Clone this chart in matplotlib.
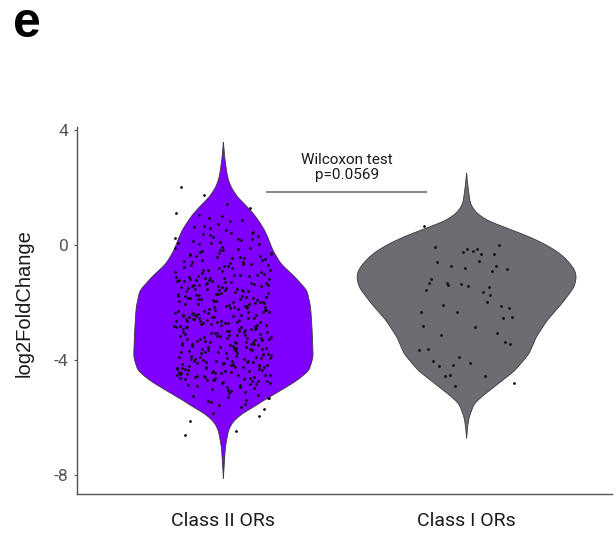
import numpy as np
import matplotlib.pyplot as plt

groups = ["Class II ORs", "Class I ORs"]
fill_colors = ["#7f00ff", "#6c6c72"]

# log2FoldChange per receptor
class2_lfc = [
    -2.31, -0.48, -3.92, -1.17, -4.63, 0.27, -2.86, -3.41, -1.73, -4.18, -0.92, -2.05, -5.12, -3.67, -1.38,
    -4.41, 0.63, -2.54, -3.08, -1.96, -4.87, -0.21, -3.29, -2.72, -1.51, -4.02, 0.08, -3.83, -2.17, -4.55,
    -1.04, -3.56, -2.93, -0.66, -4.29, -1.82, -3.14, -2.41, 0.41, -4.71, -1.25, -3.75, -2.64, -0.37, -4.12,
    -1.62, -3.36, -2.23, -5.34, -0.79, -3.98, -2.81, -1.44, -4.47, 0.16, -3.21, -2.02, -4.93, -1.11, -3.61,
    -2.49, -0.12, -4.24, -1.89, -3.47, -2.77, -0.55, -4.66, -1.33, -3.02, 0.84, -2.38, -4.08, -1.69, -3.89,
    -2.61, -0.98, -4.36, -1.56, -3.27, -2.12, 0.34, -4.79, -3.53, -1.21, -2.88, -0.29, -4.15, -1.78, -3.71,
    -2.27, -5.06, -0.71, -3.44, -1.94, -4.52, -2.69, 0.02, -3.11, -1.47, -4.33, -2.96, -0.86, -3.79, -1.28,
    -2.57, -4.61, -0.43, -3.16, -1.87, -4.01, -2.35, 0.52, -3.68, -1.08, -4.42, -2.83, -1.64, -3.33, -5.21,
    -0.17, -2.46, -4.26, -1.36, -3.58, -2.09, -0.61, -4.73, -3.05, -1.79, 0.21, -2.74, -3.94, -1.15, -4.48,
    -2.19, -3.38, -0.89, -4.14, -1.53, -2.91, 0.73, -3.73, -2.42, -4.57, -1.01, -3.25, -0.33, -4.84, -1.91,
    -2.66, -3.86, -1.41, -4.21, -0.07, -3.09, -2.14, -4.68, -1.67, -3.49, -2.58, 0.46, -4.03, -1.23, -2.99,
    -3.63, -0.53, -4.39, -1.84, -2.33, -5.47, -3.19, -1.06, -4.11, -2.79, 0.11, -3.42, -1.59, -4.59, -2.26,
    -0.74, -3.97, -1.31, -2.52, -4.31, -3.13, -0.24, -1.98, -4.76, -2.87, -3.55, 0.95, -1.18, -4.05, -2.44,
    -3.31, -1.72, -4.49, -0.41, -2.71, -3.84, -1.49, -4.22, -2.06, -5.02, -0.95, -3.66, -2.39, 0.31, -4.44,
    -1.27, -3.04, -2.62, -4.17, -0.63, -3.52, -1.86, -4.64, -2.29, -0.15, -3.77, -1.42, -4.09, -2.84, -3.23,
    0.58, -4.54, -1.97, -2.48, -3.91, -0.82, -4.27, -1.58, -3.35, -2.16, -5.28, -0.35, -2.94, -4.38, -1.13,
    -3.69, -2.55, 0.04, -4.81, -1.76, -3.12, -2.36, -0.69, -4.19, -1.39, -3.43, -2.68, -4.62, -1.03, 0.37,
    -3.81, -2.11, -4.34, -1.61, -2.76, -0.27, -3.58, -4.91, -1.92, -3.18, -2.45, -0.58, -4.06, -1.34, -2.98,
    -3.46, 0.19, -4.46, -1.69, -2.24, -3.88, -0.94, -4.13, -2.59, -5.39, -1.22, -3.27, -0.46, -4.58, -2.03,
    -3.74, -1.46, -2.85, 0.67, -4.23, -3.01, -1.83, -0.11, -4.69, -2.37, -3.59, -1.09, -4.32, -2.65, -0.77,
    -3.95, -1.54, -4.72, -2.21, 0.13, -3.37, -1.95, -4.43, -2.92, -0.52, -3.62, -1.29, -4.86, -2.53, -3.07,
    -0.31, -4.16, -1.74, -2.43, -5.58, -3.48, 0.88, -1.16, -4.51, -2.73, -3.87, -0.65, -2.15, -4.28, -1.52,
    -3.28, -2.67, -0.19, -4.65, -1.81, -3.54, -2.34, 0.43, -4.04, -1.37, -3.15, -2.82, -4.95, -0.87, -1.99,
    -3.76, -2.51, -4.37, -1.24, 0.24, -3.39, -2.07, -4.74, -1.66, -3.03, -0.44, -4.25, -2.78, -5.15, -1.43,
    -3.64, -2.28, 0.06, -4.53, -1.88, -3.22, -0.72, -2.63, -4.07, -1.14, -3.93, -2.47, -0.38, -4.82, -1.57,
    2.02, -5.63, 1.72, -5.71, 1.41, -6.12, 1.30, -5.86, 1.12, -6.48, 1.05, -5.95, 1.01, -6.61,
    -5.52, -5.44, -5.33, -5.09, -5.24, -4.98,
]
class1_lfc = [
    -1.40, 0.64, -3.07, -0.21, -4.52, -1.57, 0.00, -2.84, -0.73, -3.63, -2.14, -0.15, -4.16,
    -1.33, -2.53, -0.56, -4.90, -1.19, -3.36, -0.31, -2.33, -4.05, -0.85, -1.63, -3.91, -0.09,
    -2.20, -4.57, -1.36, -0.59, -3.44, -1.99, -0.23, -4.22, -2.52, -1.47, -0.79, -3.13, -4.79,
    -1.73, -0.13, -2.08, -3.66, -0.90, -1.43, -4.56, -2.35, -0.32, -4.12, -1.33, -2.82, -0.72,
]

# violin outlines: log2FoldChange level and relative density
class2_level = [3.58, 3.0, 2.5, 2.26, 2.0, 1.68, 1.4, 1.1, 0.8, 0.52, 0.2, -0.17, -0.64, -1.1,
                -1.57, -2.15, -2.96, -3.88, -4.35, -4.7, -5.04, -5.39, -5.62, -5.86, -6.15,
                -6.43, -7.0, -7.5, -8.1]
class2_dens = [0, 1.5, 3.5, 5, 8, 14, 22, 30, 36, 41, 45, 49, 57, 71,
               83, 86.5, 88, 89, 85, 73, 57, 40, 30, 18, 9,
               5, 2, 1, 0]
class1_level = [2.5, 2.0, 1.45, 1.15, 0.87, 0.6, 0.29, 0.0, -0.29, -0.6, -0.87, -1.1, -1.45,
                -2.0, -2.6, -3.19, -3.77, -4.35, -4.93, -5.2, -5.5, -5.97, -6.3, -6.7]
class1_dens = [0, 1.5, 3.7, 9, 20, 40, 63, 80, 93, 102, 107.5, 109, 106.7,
               95, 80, 69, 62, 48, 27, 17, 7.5, 2.5, 1, 0]

test_name = "Wilcoxon test"
p_value = 0.0569


def violin_outline(level, dens):
    lv = np.array(level)[::-1]
    dn = np.array(dens, dtype=float)[::-1]
    grid = np.linspace(lv[0], lv[-1], 600)
    w = np.interp(grid, lv, dn)
    # soften the corners of the piecewise outline
    step = grid[1] - grid[0]
    k = np.arange(-30, 31) * step
    kern = np.exp(-0.5 * (k / 0.09) ** 2)
    kern /= kern.sum()
    w = np.convolve(w, kern, mode="same")
    return grid, w


plt.rcParams["font.family"] = ["Roboto", "DejaVu Sans"]
fig = plt.figure(figsize=(6.16, 5.38), dpi=100)
ax = fig.add_axes([0.125, 0.0818, 0.8685, 0.6822])

outlines = [violin_outline(class2_level, class2_dens),
            violin_outline(class1_level, class1_dens)]
wmax = max(w.max() for _, w in outlines)

for i, ((grid, w), col) in enumerate(zip(outlines, fill_colors)):
    pos = i + 1
    half = w / wmax * 0.45
    ax.fill_betweenx(grid, pos - half, pos + half, facecolor=col,
                     edgecolor="#3a3a3a", linewidth=0.6, zorder=2)

# jittered points, spread with low-discrepancy sequences
steps = [0.6180339887, 0.7548776662]
for i, vals in enumerate([class2_lfc, class1_lfc]):
    vals = np.array(vals)
    frac = (np.arange(len(vals)) * steps[i] + 0.31) % 1.0
    xs = (i + 1) + (frac - 0.5) * 0.4
    ax.scatter(xs, vals, s=4, color="#0d0d0d", linewidths=0, zorder=3)

# significance bracket
ax.plot([1.183, 1.836], [1.85, 1.85], color="#8a8a8a", lw=1.5, zorder=3)
ax.text(1.51, 2.96, test_name, ha="center", va="center", fontsize=11, color="#1a1a1a")
ax.text(1.51, 2.43, f"p={p_value}", ha="center", va="center", fontsize=11, color="#1a1a1a")

ax.set_xlim(0.4, 2.6)
ax.set_ylim(-8.66, 4.1)
ax.set_xticks([1, 2])
ax.set_xticklabels(groups, fontsize=14, color="#1a1a1a")
ax.set_yticks([-8, -4, 0, 4])
ax.set_yticklabels(["-8", "-4", "0", "4"], fontsize=12.5, color="#555555")
ax.tick_params(axis="x", length=0, pad=13)
ax.tick_params(axis="y", length=2, width=0.8, color="#555555", pad=4)

for side in ["top", "right"]:
    ax.spines[side].set_visible(False)
for side in ["left", "bottom"]:
    ax.spines[side].set_color("#555555")
    ax.spines[side].set_linewidth(1.0)

ax.set_ylabel("log2FoldChange", fontsize=14.5, color="#1a1a1a",
              family=["Liberation Sans", "DejaVu Sans"])
ax.yaxis.set_label_coords(-0.082, 0.52)

fig.text(13 / 616, 1 - 37 / 538, "e", fontsize=36, fontweight="bold",
         family=["Liberation Sans", "DejaVu Sans"], va="baseline", ha="left")

fig.savefig("out.png", dpi=100)
